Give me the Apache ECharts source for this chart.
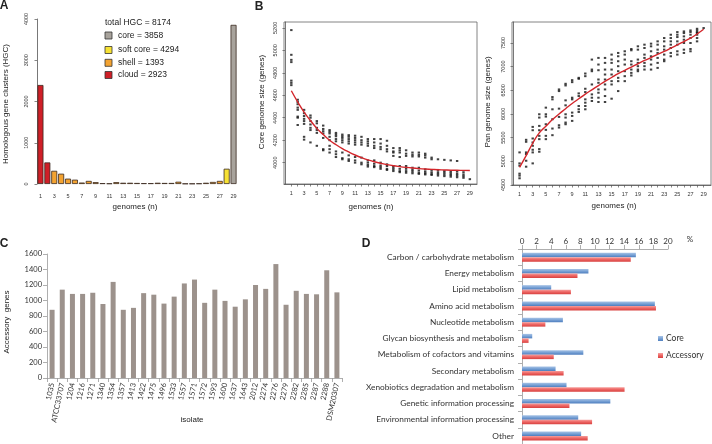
<!DOCTYPE html>
<html><head><meta charset="utf-8">
<script src="https://cdn.jsdelivr.net/npm/echarts@6/dist/echarts.min.js"></script>
<style>html,body{margin:0;padding:0;background:#fff}#c{width:712px;height:444px}</style>
</head><body><div id="c"></div>
<script>
// ---------- Panel A ----------
const genomes = ['1','2','3','4','5','6','7','8','9','10','11','12','13','14','15','16','17','18','19','20','21','22','23','24','25','26','27','28','29'];
const hgcCounts = [2400,523,320,250,130,105,35,75,45,20,15,45,30,30,25,20,20,30,25,25,55,10,10,15,30,50,75,370,3858];
const hgcLegendTitle = 'total HGC = 8174';
const hgcLegendLabels = ['core = 3858','soft core = 4294','shell = 1393','cloud = 2923'];

// ---------- Panel B ----------
const nGenomes = [1,2,3,4,5,6,7,8,9,10,11,12,13,14,15,16,17,18,19,20,21,22,23,24,25,26,27,28,29];
const coreScatter = [
 [5180,4960,4915,4895,4730,4710,4690],
 [4560,4540,4520,4490,4470,4410,4400,4335],
 [4470,4440,4415,4390,4370,4345,4230,4205],
 [4420,4400,4370,4340,4310,4290,4180],
 [4370,4350,4310,4290,4265,4150],
 [4330,4300,4280,4260,4220,4120,4110],
 [4290,4275,4260,4230,4200,4150,4120,4090],
 [4265,4250,4235,4210,4190,4100,4075,4050],
 [4250,4235,4220,4200,4180,4090,4040,4030],
 [4245,4230,4210,4190,4170,4065,4030,4015],
 [4240,4220,4200,4180,4160,4050,4020,4000],
 [4230,4200,4180,4160,4045,4000,3985],
 [4210,4190,4170,4150,4020,4000,3980,3965],
 [4210,4180,4150,4130,4020,3990,3970,3960],
 [4210,4170,4140,4120,4000,3975,3960,3945],
 [4195,4150,4120,4100,3985,3970,3945,3935],
 [4130,4100,4090,4060,3970,3955,3940,3925],
 [4130,4110,4090,4050,3970,3945,3925,3915],
 [4110,4080,4060,3970,3945,3925,3910],
 [4090,4070,4055,3955,3935,3920,3905],
 [4090,4070,4055,3955,3930,3910,3900],
 [4080,4065,4045,3940,3920,3905,3895],
 [4045,4030,3935,3915,3900,3890],
 [4030,3935,3915,3900,3885],
 [4025,3925,3910,3895,3880],
 [4020,3920,3905,3890,3875],
 [4015,3920,3900,3885,3870],
 [3915,3895,3880,3865],
 [3853]
];
const coreFit = [4640,4540,4450,4375,4305,4250,4200,4160,4125,4095,4068,4045,4025,4008,3995,3983,3973,3965,3958,3952,3947,3943,3940,3937,3935,3933,3932,3931,3930];
const panScatter = [
 [5187,4955,4906,4738,4696,4640],
 [5453,5411,5187,5152,5011,4885],
 [5726,5656,5481,5397,5327,5243,5187,4955],
 [5993,5923,5747,5656,5537,5467,5257,5201],
 [6133,5993,5944,5782,5663,5537,5467],
 [6357,6308,6098,5888,5691,5551],
 [6518,6483,6112,5937,5761,5712],
 [6637,6602,6287,6182,5993,5923,5818,5782],
 [6714,6672,6343,6308,6028,5958,5853],
 [6763,6742,6434,6378,6168,6098,6042],
 [6854,6798,6532,6462,6308,6238,6168,6098],
 [7149,6938,6903,6623,6413,6343,6273],
 [7184,7044,6924,6728,6658,6518,6448,6343,6252],
 [7184,7079,6938,6833,6728,6623,6518,6378,6252],
 [7254,7149,7079,6938,6833,6693,6623,6322],
 [7289,7219,7114,7009,6903,6763,6693,6483],
 [7324,7254,7149,7044,6903,6798,6693],
 [7373,7345,7114,7044,6938,6868,6812],
 [7429,7359,7149,7079,7009,6938,6903],
 [7464,7394,7254,7184,7079,7009,6938],
 [7485,7429,7324,7219,7149,7044,6938],
 [7534,7464,7359,7289,7184,7079,6973],
 [7604,7534,7429,7359,7254,7149,7114],
 [7674,7604,7534,7464,7394,7289,7219],
 [7730,7674,7625,7534,7464,7324,7254],
 [7744,7709,7639,7569,7499,7359,7289],
 [7765,7730,7674,7604,7499,7373,7324],
 [7800,7765,7730,7709,7674,7604,7534],
 [7815]
];
const panFit = [4870,5120,5380,5600,5740,5880,6000,6110,6220,6320,6420,6510,6600,6690,6770,6850,6920,6990,7060,7130,7190,7260,7320,7390,7460,7530,7600,7690,7790];
const bXLabels = [1,3,5,7,9,11,13,15,17,19,21,23,25,27,29];
const coreYLabels = [4000,4200,4400,4600,4800,5000,5200];
const panYLabels = [4500,5000,5500,6000,6500,7000,7500];

// ---------- Panel C ----------
const isolates = ['1035','ATCC33707','1204','1216','1271','1340','1354','1357','1413','1422','1475','1496','1533','1557','1571','1572','1593','1600','1637','1643','2012','2274','2276','2279','2282','2285','2287','2288','DSM20307'];
const accessoryGenes = [880,1140,1085,1085,1100,955,1240,880,905,1095,1075,960,1050,1220,1270,970,1140,995,920,1015,1200,1150,1470,945,1125,1085,1080,1390,1105];

// ---------- Panel D ----------
const functions = ['Carbon / carbohydrate metabolism','Energy metabolism','Lipid metabolism','Amino acid metabolism','Nucleotide metabolism','Glycan biosynthesis and metabolism','Metabolism of cofactors and vitamins','Secondary metabolism','Xenobiotics degradation and metabolism','Genetic information processing','Environmental information processing','Other'];
const corePct = [15.6,9.1,4.0,18.2,5.6,1.4,8.4,4.6,6.1,12.1,7.7,8.1];
const accessoryPct = [14.9,7.6,6.7,18.35,3.2,0.9,4.35,5.7,14.05,6.5,9.6,9.0];

// ---------- build ----------
const RF = 'Liberation Sans, Arial, sans-serif';
const XF = 'Lato, Carlito, sans-serif';
const plain = v => String(v);
const groupColor = {cloud:'#cf1f27', shell:'#f3a331', soft:'#f7e234', core:'#a8a39c'};
function hgcGroup(i){ const n = i+1; if(n<=2) return 'cloud'; if(n===29) return 'core'; if(n===28) return 'soft'; return 'shell'; }

function flatten(arr){ const out=[]; arr.forEach((vals,i)=>vals.forEach(v=>out.push([nGenomes[i], v]))); return out; }

const rAxisLine = {show:true, lineStyle:{color:'#555', width:0.8}};
const rTick = {show:true, inside:false, length:2.5, lineStyle:{color:'#555', width:0.7}};
const rLabel = {fontSize:5.5, color:'#333', fontFamily:RF, formatter:plain};

function bX(grid){ return {type:'value', gridIndex:grid, min:-0.15, max:30.12, splitLine:{show:false},
  axisLine:rAxisLine, axisTick:Object.assign({}, rTick, {customValues:nGenomes}),
  axisLabel:Object.assign({}, rLabel, {customValues:bXLabels, margin:6})}; }
function bY(grid,min,max,labels){ return {type:'value', gridIndex:grid, min:min, max:max, splitLine:{show:false},
  axisLine:rAxisLine, axisTick:Object.assign({}, rTick, {customValues:labels}),
  axisLabel:Object.assign({}, rLabel, {customValues:labels, rotate:90, margin:6})}; }

const xlAxis = {show:true, lineStyle:{color:'#9a9a9a', width:0.8}};
const xlTick = {show:true, inside:false, length:4, lineStyle:{color:'#9a9a9a', width:0.8}};

const graphics = [];
function txt(x,y,t,size,opt){ graphics.push({type:'text', x:x, y:y, rotation:(opt&&opt.rot)||0, style:{text:t, fontSize:size, fontFamily:(opt&&opt.font)||RF, fontWeight:(opt&&opt.bold)?'bold':'normal', fill:(opt&&opt.fill)||'#222', textAlign:(opt&&opt.align)||'center', textVerticalAlign:'middle'}}); }
txt(4,6,'A',12,{bold:true});
txt(259,7,'B',12,{bold:true});
txt(4,244,'C',12,{bold:true});
txt(366,244,'D',12,{bold:true});
// axis titles
txt(6,104,'Homologous gene clusters (HGC)',8,{rot:Math.PI/2});
txt(135,207,'genomes (n)',8);
txt(262,102,'Core genome size (genes)',8,{rot:Math.PI/2});
txt(371,207,'genomes (n)',8);
txt(488,102,'Pan genome size (genes)',8,{rot:Math.PI/2});
txt(614,206,'genomes (n)',8);
txt(7,322,'Accessory  genes',8,{rot:Math.PI/2});
txt(192,420,'isolate',8);
txt(690,239,'%',8,{font:XF, fill:'#333'});
// panel A legend
txt(105,23,hgcLegendTitle,8.5,{align:'left'});
const legYs=[35.5,50,62.8,75];
const legColors=[groupColor.core,groupColor.soft,groupColor.shell,groupColor.cloud];
hgcLegendLabels.forEach((l,i)=>{
  graphics.push({type:'rect', shape:{x:105, y:legYs[i]-3.5, width:7, height:7}, style:{fill:legColors[i], stroke:'#333', lineWidth:0.8}});
  txt(118,legYs[i],l,8.5,{align:'left'});
});

const option = {
  animation:false,
  backgroundColor:'#fff',
  grid:[
    {left:37, top:19, width:200, height:165},
    {left:284, top:22, width:193, height:162, show:true, borderColor:'#666', borderWidth:0.8},
    {left:512, top:22, width:199, height:163, show:true, borderColor:'#666', borderWidth:0.8},
    {left:47, top:254, width:295, height:124},
    {left:522, top:249, width:146, height:195}
  ],
  xAxis:[
    {type:'category', gridIndex:0, data:genomes, axisLine:{show:false}, axisTick:{show:false},
     axisLabel:Object.assign({}, rLabel, {interval:1, margin:9})},
    bX(1), bX(2),
    {type:'category', gridIndex:3, data:isolates, axisLine:xlAxis, axisTick:Object.assign({}, xlTick, {interval:0}),
     axisLabel:{interval:0, rotate:78, fontSize:7.5, color:'#333', fontFamily:XF, margin:5}},
    {type:'value', gridIndex:4, position:'top', min:0, max:20, interval:2, splitLine:{show:false},
     axisLine:xlAxis, axisTick:xlTick, axisLabel:{fontSize:8, color:'#333', fontFamily:XF, margin:4, formatter:plain}}
  ],
  yAxis:[
    {type:'value', gridIndex:0, min:0, max:4000, interval:1000, splitLine:{show:false}, axisLine:rAxisLine, axisTick:rTick,
     axisLabel:Object.assign({}, rLabel, {rotate:90, margin:8})},
    bY(1,3810,5252,coreYLabels),
    bY(2,4498,7943,panYLabels),
    {type:'value', gridIndex:3, min:0, max:1600, interval:200, splitLine:{show:false}, axisLine:xlAxis, axisTick:xlTick,
     axisLabel:{fontSize:7.5, color:'#333', fontFamily:XF, margin:5, formatter:plain}},
    {type:'category', gridIndex:4, data:functions, inverse:true, axisLine:xlAxis, axisTick:xlTick,
     axisLabel:{fontSize:8.3, color:'#333', fontFamily:XF, margin:8}}
  ],
  legend:{data:['Core','Accessory'], orient:'vertical', left:653, top:329, itemWidth:5, itemHeight:5, itemGap:8, icon:'rect',
    textStyle:{fontSize:8.5, color:'#333', fontFamily:XF, padding:[0,0,0,-2]}},
  graphic:graphics,
  series:[
    {type:'bar', name:'HGC', xAxisIndex:0, yAxisIndex:0, barCategoryGap:'13%',
     data:hgcCounts.map((v,i)=>({value:v, itemStyle:{color:groupColor[hgcGroup(i)], borderColor:'#3a2a20', borderWidth:0.8}}))},
    {type:'scatter', name:'core pts', xAxisIndex:1, yAxisIndex:1, symbol:'rect', symbolSize:[2.4,2], itemStyle:{color:'#111'}, data:flatten(coreScatter)},
    {type:'line', name:'core fit', xAxisIndex:1, yAxisIndex:1, smooth:true, showSymbol:false, lineStyle:{color:'#d3262b', width:1.4}, data:coreFit.map((v,i)=>[nGenomes[i],v])},
    {type:'scatter', name:'pan pts', xAxisIndex:2, yAxisIndex:2, symbol:'rect', symbolSize:[2.4,2], itemStyle:{color:'#111'}, data:flatten(panScatter)},
    {type:'line', name:'pan fit', xAxisIndex:2, yAxisIndex:2, smooth:true, showSymbol:false, lineStyle:{color:'#d3262b', width:1.4}, data:panFit.map((v,i)=>[nGenomes[i],v])},
    {type:'bar', name:'Accessory genes', xAxisIndex:3, yAxisIndex:3, barWidth:5, itemStyle:{color:'#9c928c'}, data:accessoryGenes},
    {type:'bar', name:'Core', xAxisIndex:4, yAxisIndex:4, barWidth:4.5, barGap:'0%', barCategoryGap:'45%',
     itemStyle:{color:new echarts.graphic.LinearGradient(0,0,0,1,[{offset:0,color:'#a9c4e6'},{offset:0.5,color:'#7aa3d6'},{offset:1,color:'#4f7fbf'}])}, data:corePct},
    {type:'bar', name:'Accessory', xAxisIndex:4, yAxisIndex:4, barWidth:4.5, barGap:'0%',
     itemStyle:{color:new echarts.graphic.LinearGradient(0,0,0,1,[{offset:0,color:'#f6a09e'},{offset:0.5,color:'#ee6664'},{offset:1,color:'#d84240'}])}, data:accessoryPct}
  ]
};
const chart = echarts.init(document.getElementById('c'), null, {renderer:'canvas'});
chart.setOption(option);
</script>
</body></html>
